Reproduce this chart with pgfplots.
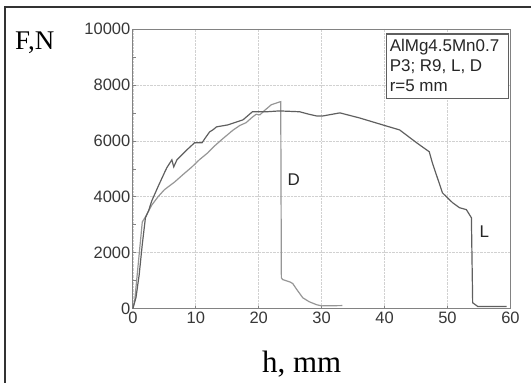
\documentclass[border=0pt]{standalone}
\usepackage{fontspec}
\setmainfont{Liberation Serif}
\setsansfont{Liberation Sans}
\usepackage{pgfplots}
\pgfplotsset{compat=1.18}
\definecolor{darkL}{RGB}{95,95,95}
\definecolor{lightD}{RGB}{150,150,150}
\definecolor{axgray}{RGB}{130,130,130}
\definecolor{txtgray}{RGB}{55,55,55}
\begin{document}
\begin{tikzpicture}[x=1pt,y=1pt]
\path (-133,-74) rectangle (399,309);
\draw[black!80, line width=1.2pt] (-128,-74) -- (-128,302) -- (399,302);
\begin{axis}[
  at={(0,0)}, anchor=south west,
  scale only axis, width=378pt, height=280pt,
  xmin=0, xmax=60, ymin=0, ymax=10000,
  xtick={0,10,...,60}, ytick={0,2000,...,10000},
  scaled ticks=false,
  minor y tick num=1,
  xtick pos=bottom, ytick pos=left,
  tick align=inside,
  major tick length=3pt, minor tick length=3pt,
  tick style={axgray, line width=0.6pt},
  grid=major, grid style={densely dotted, black!18, line width=0.6pt},
  axis line style={axgray, line width=0.8pt},
  ticklabel style={font=\sffamily\fontsize{16.5}{16.5}\selectfont, text=txtgray},
  yticklabel style={xshift=1pt},
  /pgf/number format/assume math mode=true,
  /pgf/number format/1000 sep={},
  clip=false,
]
\addplot[lightD, line width=1.2pt] coordinates {
(0,0) (0.3,300) (1.5,3100) (2.0,3280) (3,3700) (4,4000) (5,4250) (6.7,4540)
(8,4800) (9.4,5070) (10.6,5330) (11.9,5570) (13,5820) (14.1,6040) (15.9,6380)
(17,6550) (18,6650) (19,6850) (19.6,6950) (20.2,6930) (21,7100) (22,7290)
(23.3,7390) (23.5,7400) (23.6,1100) (23.8,1040) (25.0,950) (25.4,900)
(26.0,700) (27,390) (28,250) (29.2,140) (30,100) (33.3,110)
};
\addplot[darkL, line width=1.2pt] coordinates {
(0,0) (0.5,400) (1.0,1200) (1.5,2300) (2.0,3250) (2.5,3500) (3,3850)
(4,4360) (5,4850) (5.4,5040) (6.2,5320) (6.5,5070) (7.0,5320) (8.6,5680)
(9.8,5930) (11,5930) (11.5,6100) (12.2,6320) (12.7,6390) (13.3,6500)
(15.1,6570) (17.5,6750) (19.0,7040) (21.3,7040) (23.3,7070) (26.5,7040)
(28,6950) (29.2,6890) (30.2,6890) (32.9,7000) (36,6820) (39.7,6570)
(42.4,6390) (45.1,5930) (47.1,5610) (47.6,5210) (49.2,4140) (50.8,3790)
(51.9,3610) (53,3540) (53.8,3250) (54,210) (54.8,80) (59.4,80)
};
\end{axis}
\draw[darkL, line width=1.2pt, fill=white] (254,210) rectangle (376,275);
\begin{scope}[every node/.style={anchor=base west, inner sep=0pt, font=\sffamily\fontsize{17}{17}\selectfont, text=black!85}]
\node at (257,257) {AlMg4.5Mn0.7};
\node at (257,237) {P3; R9, L, D};
\node at (257,217) {r=5 mm};
\end{scope}
\node[font=\sffamily\fontsize{17}{17}\selectfont, text=black!85] at (161,129) {D};
\node[font=\sffamily\fontsize{17}{17}\selectfont, text=black!85] at (352,77) {L};
\node[anchor=base west, inner sep=0pt, font=\fontsize{27}{27}\selectfont] at (-118,259) {F,N};
\node[anchor=base, inner sep=0pt, font=\fontsize{31}{31}\selectfont] at (169,-64) {h, mm};
\end{tikzpicture}
\end{document}
